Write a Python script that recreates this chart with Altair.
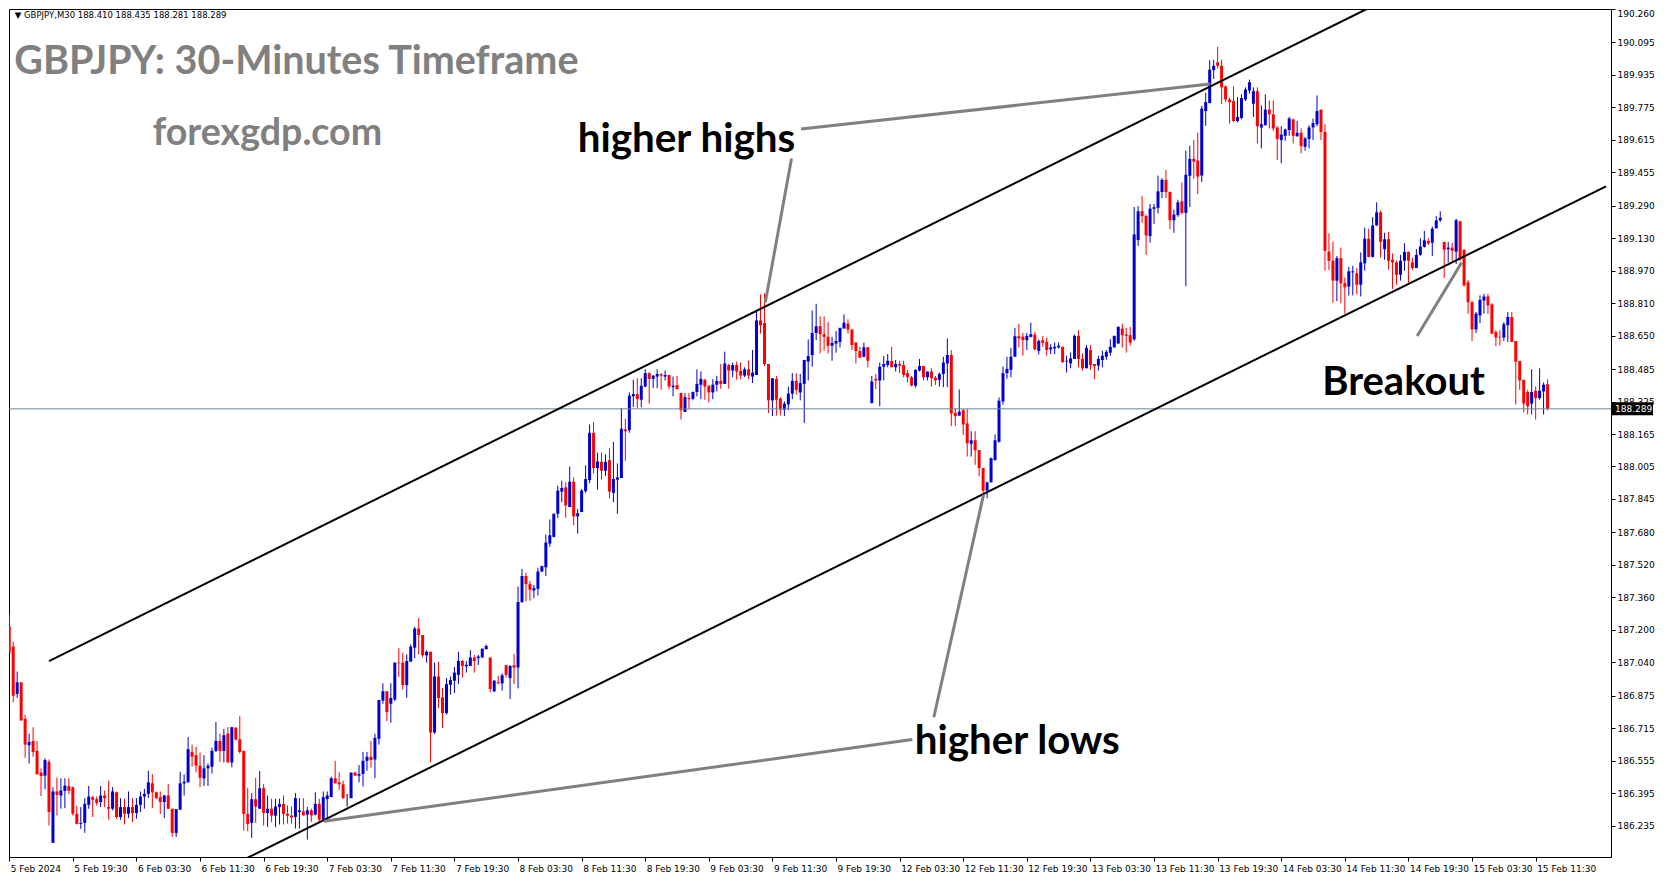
import altair as alt
import pandas as pd
import numpy as np

# ---------------- candle data (GBPJPY M30) ----------------
opens = [
 187.218, 187.117, 186.884, 186.941, 186.761, 186.631, 186.652, 186.603, 186.496, 186.481,
 186.549, 186.150, 186.403, 186.383, 186.406, 186.430, 186.424, 186.293, 186.243, 186.248,
 186.337, 186.375, 186.365, 186.351, 186.383, 186.326, 186.318, 186.399, 186.277, 186.326,
 186.293, 186.326, 186.297, 186.337, 186.378, 186.391, 186.443, 186.399, 186.375, 186.351,
 186.383, 186.318, 186.199, 186.313, 186.443, 186.448, 186.598, 186.582, 186.530, 186.468,
 186.517, 186.525, 186.603, 186.652, 186.603, 186.688, 186.546, 186.717, 186.660, 186.603,
 186.293, 186.248, 186.365, 186.318, 186.419, 186.297, 186.318, 186.284, 186.326, 186.341,
 186.293, 186.284, 186.277, 186.302, 186.305, 186.289, 186.310, 186.289, 186.342, 186.264,
 186.365, 186.375, 186.468, 186.448, 186.438, 186.373, 186.370, 186.496, 186.481, 186.489,
 186.554, 186.574, 186.561, 186.663, 186.851, 186.897, 186.835, 186.856, 187.038, 187.038,
 186.927, 187.043, 187.112, 187.206, 187.174, 187.074, 187.092, 186.693, 186.970, 186.867,
 186.789, 186.929, 186.949, 186.978, 187.046, 187.020, 187.022, 187.063, 187.060, 187.063,
 187.104, 187.063, 186.897, 186.941, 186.936, 187.025, 186.962, 187.025, 187.014, 187.337,
 187.465, 187.425, 187.394, 187.402, 187.487, 187.508, 187.625, 187.658, 187.772, 187.881,
 187.902, 187.805, 187.930, 187.759, 187.780, 187.883, 187.938, 188.171, 187.997, 188.028,
 187.984, 188.036, 187.875, 187.940, 187.948, 188.188, 188.184, 188.351, 188.362, 188.334,
 188.399, 188.465, 188.437, 188.448, 188.460, 188.448, 188.456, 188.396, 188.406, 188.367,
 188.274, 188.342, 188.339, 188.372, 188.408, 188.432, 188.403, 188.370, 188.408, 188.427,
 188.412, 188.505, 188.478, 188.505, 188.476, 188.453, 188.484, 188.448, 188.456, 188.725,
 188.712, 188.510, 188.331, 188.437, 188.339, 188.285, 188.311, 188.364, 188.427, 188.370,
 188.412, 188.522, 188.554, 188.663, 188.696, 188.657, 188.644, 188.600, 188.611, 188.619,
 188.685, 188.709, 188.680, 188.616, 188.574, 188.546, 188.592, 188.318, 188.437, 188.429,
 188.497, 188.505, 188.525, 188.494, 188.510, 188.505, 188.465, 188.445, 188.403, 188.478,
 188.500, 188.445, 188.473, 188.443, 188.432, 188.461, 188.513, 188.554, 188.269, 188.256,
 188.282, 188.217, 188.117, 188.134, 188.086, 187.997, 187.886, 187.927, 188.037, 188.127,
 188.326, 188.465, 188.481, 188.546, 188.647, 188.644, 188.628, 188.644, 188.655, 188.575,
 188.627, 188.619, 188.582, 188.587, 188.592, 188.595, 188.522, 188.513, 188.535, 188.649,
 188.535, 188.489, 188.579, 188.510, 188.502, 188.530, 188.546, 188.566, 188.592, 188.611,
 188.685, 188.655, 188.652, 188.632, 189.121, 189.263, 189.239, 189.141, 189.275, 189.280,
 189.358, 189.418, 189.358, 189.219, 189.244, 189.312, 189.255, 189.438, 189.521, 189.513,
 189.439, 189.757, 189.796, 189.959, 189.997, 189.980, 189.878, 189.814, 189.806, 189.708,
 189.723, 189.814, 189.858, 189.793, 189.855, 189.676, 189.687, 189.764, 189.741, 189.676,
 189.614, 189.635, 189.663, 189.715, 189.633, 189.650, 189.581, 189.619, 189.676, 189.692,
 189.764, 189.654, 189.064, 189.019, 188.921, 189.032, 188.908, 188.892, 188.962, 188.957,
 188.901, 189.006, 189.128, 189.038, 189.193, 189.258, 189.076, 189.125, 189.024, 189.011,
 188.950, 189.019, 189.063, 189.011, 188.983, 189.048, 189.087, 189.117, 189.108, 189.179,
 189.218, 189.112, 189.076, 189.084, 189.064, 189.214, 189.073, 188.913, 188.815, 188.681,
 188.750, 188.823, 188.843, 188.804, 188.668, 188.644, 188.641, 188.701, 188.742, 188.623,
 188.525, 188.432, 188.372, 188.315, 188.378, 188.342, 188.375, 188.410]

highs = [
 187.278, 187.141, 186.994, 186.941, 186.781, 186.688, 186.720, 186.652, 186.517, 186.566,
 186.561, 186.424, 186.471, 186.468, 186.468, 186.468, 186.427, 186.333, 186.326, 186.370,
 186.430, 186.381, 186.378, 186.430, 186.408, 186.456, 186.424, 186.403, 186.370, 186.367,
 186.403, 186.370, 186.370, 186.403, 186.416, 186.505, 186.489, 186.403, 186.403, 186.386,
 186.440, 186.318, 186.316, 186.500, 186.487, 186.672, 186.634, 186.623, 186.595, 186.582,
 186.541, 186.619, 186.745, 186.688, 186.712, 186.720, 186.720, 186.720, 186.774, 186.603,
 186.421, 186.395, 186.470, 186.504, 186.440, 186.383, 186.367, 186.367, 186.367, 186.383,
 186.334, 186.329, 186.395, 186.370, 186.370, 186.326, 186.318, 186.399, 186.367, 186.403,
 186.403, 186.476, 186.554, 186.497, 186.456, 186.391, 186.496, 186.500, 186.533, 186.598,
 186.598, 186.652, 186.688, 186.854, 186.936, 186.897, 186.936, 187.038, 187.109, 187.087,
 187.079, 187.128, 187.214, 187.258, 187.174, 187.099, 187.092, 187.038, 187.043, 186.913,
 186.962, 186.970, 187.017, 187.092, 187.051, 187.046, 187.100, 187.076, 187.076, 187.107,
 187.128, 187.063, 186.952, 186.973, 186.985, 187.025, 187.025, 187.082, 187.413, 187.500,
 187.482, 187.441, 187.421, 187.506, 187.516, 187.669, 187.744, 187.772, 187.910, 187.935,
 187.927, 188.005, 187.951, 187.796, 187.894, 188.011, 188.212, 188.225, 188.073, 188.073,
 188.065, 188.095, 188.126, 188.020, 188.293, 188.240, 188.370, 188.432, 188.440, 188.440,
 188.484, 188.468, 188.456, 188.484, 188.465, 188.478, 188.456, 188.448, 188.452, 188.367,
 188.367, 188.367, 188.375, 188.484, 188.473, 188.437, 188.403, 188.435, 188.452, 188.510,
 188.571, 188.510, 188.517, 188.522, 188.518, 188.494, 188.527, 188.579, 188.771, 188.853,
 188.859, 188.510, 188.440, 188.452, 188.347, 188.326, 188.399, 188.465, 188.465, 188.461,
 188.530, 188.631, 188.774, 188.807, 188.745, 188.745, 188.717, 188.644, 188.673, 188.689,
 188.755, 188.730, 188.680, 188.616, 188.595, 188.616, 188.595, 188.451, 188.461, 188.517,
 188.549, 188.559, 188.595, 188.530, 188.526, 188.526, 188.481, 188.451, 188.484, 188.535,
 188.500, 188.473, 188.489, 188.451, 188.468, 188.546, 188.636, 188.579, 188.293, 188.385,
 188.289, 188.289, 188.179, 188.179, 188.086, 187.997, 187.930, 188.049, 188.163, 188.345,
 188.497, 188.546, 188.590, 188.688, 188.709, 188.663, 188.663, 188.714, 188.668, 188.631,
 188.649, 188.639, 188.608, 188.616, 188.616, 188.595, 188.551, 188.567, 188.655, 188.676,
 188.562, 188.603, 188.603, 188.510, 188.551, 188.575, 188.579, 188.632, 188.649, 188.696,
 188.709, 188.688, 188.693, 189.284, 189.288, 189.337, 189.247, 189.299, 189.299, 189.439,
 189.426, 189.467, 189.361, 189.271, 189.320, 189.405, 189.562, 189.586, 189.614, 189.650,
 189.782, 189.847, 190.008, 190.010, 190.073, 190.010, 189.883, 189.822, 189.879, 189.826,
 189.839, 189.874, 189.912, 189.874, 189.874, 189.785, 189.839, 189.809, 189.809, 189.682,
 189.682, 189.671, 189.728, 189.720, 189.708, 189.671, 189.630, 189.687, 189.720, 189.834,
 189.764, 189.692, 189.154, 189.113, 189.043, 189.084, 188.937, 188.989, 188.994, 188.983,
 189.060, 189.182, 189.177, 189.234, 189.307, 189.267, 189.157, 189.161, 189.055, 189.019,
 189.048, 189.105, 189.064, 189.035, 189.076, 189.130, 189.166, 189.130, 189.187, 189.239,
 189.263, 189.112, 189.112, 189.108, 189.226, 189.214, 189.076, 188.924, 188.820, 188.766,
 188.848, 188.856, 188.856, 188.810, 188.677, 188.677, 188.717, 188.766, 188.766, 188.623,
 188.525, 188.432, 188.383, 188.484, 188.399, 188.489, 188.419, 188.435]

lows = [
 187.087, 186.843, 186.864, 186.753, 186.569, 186.541, 186.574, 186.487, 186.381, 186.414,
 186.235, 186.150, 186.285, 186.318, 186.321, 186.390, 186.284, 186.240, 186.219, 186.199,
 186.318, 186.277, 186.334, 186.326, 186.326, 186.264, 186.310, 186.269, 186.264, 186.240,
 186.272, 186.253, 186.269, 186.302, 186.318, 186.370, 186.321, 186.367, 186.292, 186.272,
 186.318, 186.179, 186.179, 186.313, 186.383, 186.448, 186.525, 186.497, 186.424, 186.430,
 186.430, 186.492, 186.598, 186.549, 186.546, 186.546, 186.522, 186.655, 186.590, 186.210,
 186.207, 186.174, 186.248, 186.318, 186.235, 186.228, 186.251, 186.228, 186.240, 186.240,
 186.245, 186.245, 186.220, 186.220, 186.285, 186.166, 186.253, 186.285, 186.253, 186.264,
 186.264, 186.375, 186.443, 186.411, 186.367, 186.329, 186.370, 186.481, 186.448, 186.427,
 186.505, 186.522, 186.468, 186.634, 186.835, 186.750, 186.742, 186.848, 186.968, 186.905,
 186.864, 187.043, 187.060, 187.079, 187.063, 187.038, 186.546, 186.688, 186.815, 186.717,
 186.782, 186.880, 186.888, 186.932, 186.965, 186.989, 187.022, 186.989, 187.027, 187.063,
 187.104, 186.892, 186.892, 186.932, 186.900, 186.965, 186.859, 186.932, 186.911, 187.332,
 187.340, 187.343, 187.356, 187.369, 187.487, 187.465, 187.609, 187.655, 187.751, 187.829,
 187.752, 187.805, 187.715, 187.674, 187.780, 187.875, 187.923, 187.971, 187.891, 187.940,
 187.959, 187.848, 187.829, 187.772, 187.948, 188.033, 188.171, 188.298, 188.293, 188.298,
 188.396, 188.315, 188.391, 188.391, 188.383, 188.429, 188.386, 188.351, 188.386, 188.236,
 188.274, 188.289, 188.331, 188.351, 188.337, 188.334, 188.321, 188.337, 188.375, 188.388,
 188.412, 188.388, 188.445, 188.432, 188.435, 188.445, 188.435, 188.416, 188.456, 188.660,
 188.500, 188.269, 188.253, 188.256, 188.256, 188.253, 188.282, 188.337, 188.359, 188.331,
 188.220, 188.429, 188.497, 188.628, 188.562, 188.575, 188.562, 188.526, 188.566, 188.592,
 188.685, 188.660, 188.579, 188.513, 188.541, 188.543, 188.494, 188.315, 188.386, 188.302,
 188.429, 188.494, 188.494, 188.473, 188.465, 188.445, 188.419, 188.399, 188.394, 188.473,
 188.429, 188.429, 188.399, 188.407, 188.399, 188.396, 188.396, 188.204, 188.204, 188.256,
 188.160, 188.054, 188.054, 188.013, 187.956, 187.874, 187.848, 187.927, 188.033, 188.122,
 188.310, 188.437, 188.445, 188.546, 188.592, 188.551, 188.579, 188.641, 188.579, 188.557,
 188.595, 188.551, 188.559, 188.559, 188.587, 188.518, 188.468, 188.489, 188.535, 188.494,
 188.478, 188.489, 188.481, 188.435, 188.478, 188.494, 188.530, 188.551, 188.592, 188.611,
 188.592, 188.566, 188.600, 188.624, 189.092, 189.206, 189.048, 189.108, 189.201, 189.252,
 189.328, 189.328, 189.174, 189.157, 189.236, 189.247, 188.893, 189.284, 189.423, 189.348,
 189.407, 189.684, 189.796, 189.915, 189.967, 189.793, 189.801, 189.695, 189.703, 189.700,
 189.716, 189.806, 189.842, 189.728, 189.597, 189.573, 189.687, 189.671, 189.659, 189.516,
 189.500, 189.610, 189.635, 189.597, 189.630, 189.549, 189.562, 189.573, 189.614, 189.682,
 189.614, 188.970, 188.973, 188.812, 188.820, 188.810, 188.758, 188.848, 188.848, 188.853,
 188.843, 188.970, 189.035, 189.035, 189.190, 189.035, 189.024, 188.975, 188.880, 188.901,
 188.921, 188.970, 188.910, 188.973, 188.983, 189.043, 189.084, 189.097, 189.043, 189.179,
 189.211, 188.934, 189.011, 189.019, 189.003, 189.019, 188.892, 188.758, 188.624, 188.663,
 188.712, 188.758, 188.758, 188.657, 188.598, 188.600, 188.624, 188.619, 188.619, 188.310,
 188.383, 188.272, 188.261, 188.261, 188.236, 188.334, 188.261, 188.281]

closes = [
 187.087, 186.875, 186.941, 186.753, 186.634, 186.647, 186.598, 186.487, 186.479, 186.558,
 186.302, 186.403, 186.386, 186.408, 186.432, 186.406, 186.293, 186.243, 186.248, 186.342,
 186.378, 186.362, 186.346, 186.383, 186.370, 186.318, 186.403, 186.277, 186.326, 186.293,
 186.326, 186.297, 186.337, 186.378, 186.391, 186.448, 186.399, 186.370, 186.351, 186.383,
 186.318, 186.199, 186.316, 186.443, 186.451, 186.611, 186.574, 186.530, 186.471, 186.517,
 186.530, 186.603, 186.652, 186.603, 186.680, 186.546, 186.720, 186.659, 186.598, 186.292,
 186.243, 186.365, 186.329, 186.419, 186.297, 186.318, 186.284, 186.329, 186.341, 186.292,
 186.284, 186.275, 186.370, 186.310, 186.285, 186.310, 186.285, 186.342, 186.264, 186.375,
 186.383, 186.468, 186.443, 186.438, 186.370, 186.373, 186.496, 186.481, 186.489, 186.554,
 186.574, 186.558, 186.667, 186.854, 186.897, 186.794, 186.864, 187.038, 187.035, 186.927,
 187.046, 187.117, 187.206, 187.174, 187.074, 187.092, 186.693, 186.970, 186.864, 186.789,
 186.932, 186.952, 186.989, 187.046, 187.022, 187.027, 187.063, 187.046, 187.068, 187.107,
 187.120, 186.908, 186.949, 186.936, 186.976, 186.978, 187.022, 187.014, 187.337, 187.465,
 187.425, 187.397, 187.405, 187.487, 187.514, 187.630, 187.666, 187.772, 187.886, 187.899,
 187.813, 187.930, 187.759, 187.775, 187.886, 187.943, 188.171, 187.997, 188.029, 187.984,
 188.028, 187.881, 187.943, 187.951, 188.191, 188.179, 188.354, 188.362, 188.337, 188.403,
 188.465, 188.437, 188.452, 188.461, 188.453, 188.456, 188.399, 188.403, 188.386, 188.282,
 188.347, 188.337, 188.372, 188.412, 188.437, 188.399, 188.370, 188.408, 188.427, 188.412,
 188.513, 188.478, 188.505, 188.473, 188.453, 188.484, 188.453, 188.468, 188.725, 188.701,
 188.510, 188.331, 188.440, 188.334, 188.285, 188.315, 188.364, 188.427, 188.383, 188.416,
 188.530, 188.549, 188.663, 188.696, 188.657, 188.644, 188.600, 188.614, 188.623, 188.688,
 188.714, 188.680, 188.603, 188.574, 188.541, 188.592, 188.526, 188.424, 188.429, 188.497,
 188.510, 188.526, 188.494, 188.510, 188.502, 188.456, 188.445, 188.404, 188.481, 188.500,
 188.445, 188.473, 188.440, 188.429, 188.461, 188.517, 188.554, 188.266, 188.253, 188.275,
 188.212, 188.119, 188.134, 188.085, 187.997, 187.886, 187.927, 188.046, 188.134, 188.329,
 188.465, 188.486, 188.546, 188.647, 188.636, 188.628, 188.649, 188.657, 188.582, 188.624,
 188.614, 188.579, 188.592, 188.595, 188.600, 188.518, 188.526, 188.538, 188.649, 188.535,
 188.489, 188.590, 188.505, 188.500, 188.535, 188.551, 188.570, 188.595, 188.649, 188.693,
 188.652, 188.649, 188.616, 189.149, 189.263, 189.239, 189.144, 189.276, 189.283, 189.361,
 189.418, 189.358, 189.219, 189.247, 189.307, 189.255, 189.443, 189.521, 189.508, 189.434,
 189.769, 189.801, 189.961, 189.980, 189.980, 189.874, 189.814, 189.801, 189.708, 189.728,
 189.821, 189.863, 189.899, 189.855, 189.682, 189.692, 189.764, 189.741, 189.671, 189.619,
 189.641, 189.666, 189.720, 189.635, 189.650, 189.584, 189.622, 189.676, 189.698, 189.757,
 189.654, 189.068, 189.019, 188.921, 189.032, 188.908, 188.888, 188.967, 188.967, 188.901,
 189.011, 189.128, 189.038, 189.193, 189.258, 189.112, 189.125, 189.019, 189.011, 188.950,
 189.019, 189.063, 189.019, 188.983, 189.048, 189.089, 189.120, 189.104, 189.177, 189.218,
 189.231, 189.073, 189.084, 189.068, 189.219, 189.027, 188.897, 188.815, 188.681, 188.758,
 188.826, 188.843, 188.799, 188.660, 188.641, 188.641, 188.706, 188.742, 188.619, 188.522,
 188.429, 188.315, 188.302, 188.372, 188.342, 188.378, 188.408, 188.289]

time_labels = ["5 Feb 2024", "5 Feb 19:30", "6 Feb 03:30", "6 Feb 11:30", "6 Feb 19:30",
               "7 Feb 03:30", "7 Feb 11:30", "7 Feb 19:30", "8 Feb 03:30", "8 Feb 11:30",
               "8 Feb 19:30", "9 Feb 03:30", "9 Feb 11:30", "9 Feb 19:30", "12 Feb 03:30",
               "12 Feb 11:30", "12 Feb 19:30", "13 Feb 03:30", "13 Feb 11:30", "13 Feb 19:30",
               "14 Feb 03:30", "14 Feb 11:30", "14 Feb 19:30", "15 Feb 03:30", "15 Feb 11:30"]
bars_per_label = 16

price_ticks = [186.070, 186.235, 186.395, 186.555, 186.715, 186.875, 187.040, 187.200,
               187.360, 187.520, 187.680, 187.845, 188.005, 188.165, 188.325, 188.485,
               188.650, 188.810, 188.970, 189.130, 189.290, 189.455, 189.615, 189.775,
               189.935, 190.095, 190.260]

last_price = 188.289
header = "\u25bc GBPJPY,M30  188.410 188.435 188.281 188.289"

# trend channel (bar index, price)
channel_names = ["upper", "upper", "lower", "lower"]
channel_x = [10.0, 341.5, 59.3, 401.7]
channel_y = [187.046, 190.260, 186.070, 189.386]

# grey pointer lines
pointer_names = ["hh1", "hh1", "hh2", "hh2", "hl1", "hl1", "hl2", "hl2", "bo", "bo"]
pointer_x = [199.2, 302.1, 196.8, 190.2, 79.2, 227.2, 232.6, 245.1, 354.2, 365.4]
pointer_y = [189.669, 189.890, 189.523, 188.813, 186.256, 186.659, 186.769, 187.865, 188.648, 189.010]

# annotations
ann_text = ["GBPJPY: 30-Minutes Timeframe", "forexgdp.com", "higher highs", "higher lows", "Breakout"]
ann_x = [1.25, 36.1, 143.0, 227.8, 330.3]
ann_y = [189.999, 189.642, 189.616, 186.645, 188.415]
ann_size = [39.5, 37.6, 40.4, 40.3, 40]
ann_color = ["#808080", "#808080", "#000000", "#000000", "#000000"]

# ---------------- build ----------------
n = min(len(opens), len(highs), len(lows), len(closes))
o = np.array(opens[:n]); c = np.array(closes[:n])
df = pd.DataFrame({
    "idx": np.arange(n),
    "o": o, "h": highs[:n], "l": lows[:n], "c": c,
    "dir": np.where(c > o, "up", np.where(c < o, "down", "flat")),
})

W, H = 1602, 848
y_lo, y_hi = 186.08, 190.26
xs = alt.Scale(domain=[1.2, 401.7], nice=False, zero=False)
ys = alt.Scale(domain=[y_lo, y_hi], nice=False, zero=False)
cs = alt.Scale(domain=["up", "down", "flat"], range=["#0000cd", "#ff0000", "#000000"])

label_arr = "[" + ",".join("'" + t + "'" for t in time_labels) + "]"
x_values = [i * bars_per_label for i in range(len(time_labels))]
x_axis = alt.Axis(values=x_values,
                  labelExpr=label_arr + "[round(datum.value/" + str(bars_per_label) + ")]",
                  labelAlign="left", labelFont="DejaVu Sans", labelFontSize=9,
                  labelColor="black", tickColor="black", domainColor="black",
                  tickSize=4, labelPadding=3, labelOffset=1, grid=False, title=None,
                  labelFlush=False, labelOverlap=False)
shown_ticks = [t for t in price_ticks if y_lo <= t <= y_hi]
y_axis = alt.Axis(orient="right", values=shown_ticks, format=".3f",
                  labelFont="DejaVu Sans", labelFontSize=9, labelColor="black",
                  tickColor="black", domainColor="black", tickSize=4, labelPadding=2,
                  grid=False, title=None, labelOverlap=False, labelFlush=True)


def X(field):
    return alt.X(field, scale=xs, axis=x_axis)


def Y(field):
    return alt.Y(field, scale=ys, axis=y_axis)


base = alt.Chart(df)
wicks = base.mark_rule(strokeWidth=1, clip=True).encode(
    x=X("idx:Q"), y=Y("l:Q"), y2="h:Q",
    color=alt.Color("dir:N", scale=cs, legend=None),
)
bodies = base.mark_bar(width=3, clip=True).encode(
    x=X("idx:Q"), y=Y("o:Q"), y2="c:Q",
    color=alt.Color("dir:N", scale=cs, legend=None),
)

price_df = pd.DataFrame({"p": [last_price], "t": [f"{last_price:.3f}"]})
price_line = alt.Chart(price_df).mark_rule(color="#6f8295", strokeWidth=1).encode(y=Y("p:Q"))

ch_df = pd.DataFrame({"name": channel_names, "x": channel_x, "y": channel_y})
channels = alt.Chart(ch_df).mark_line(color="black", strokeWidth=2, clip=True).encode(
    x=X("x:Q"), y=Y("y:Q"), detail="name:N")

pt_df = pd.DataFrame({"name": pointer_names, "x": pointer_x, "y": pointer_y})
pointers = alt.Chart(pt_df).mark_line(color="#808080", strokeWidth=3, clip=True).encode(
    x=X("x:Q"), y=Y("y:Q"), detail="name:N")

ann_df = pd.DataFrame({"t": ann_text, "x": ann_x, "y": ann_y, "s": ann_size, "col": ann_color})
anns = alt.Chart(ann_df).mark_text(align="left", baseline="middle", font="Lato",
                                   fontWeight="bold").encode(
    x=X("x:Q"), y=Y("y:Q"), text="t:N",
    size=alt.Size("s:Q", scale=None, legend=None),
    color=alt.Color("col:N", scale=None, legend=None))

head_df = pd.DataFrame({"t": [header], "x": [1.4], "y": [190.232]})
head = alt.Chart(head_df).mark_text(align="left", baseline="middle", font="DejaVu Sans",
                                    fontSize=8.5, color="black").encode(
    x=X("x:Q"), y=Y("y:Q"), text="t:N")

tag_bg = alt.Chart(price_df).mark_rule(color="black", strokeWidth=13).encode(
    x=alt.value(W + 1), x2=alt.value(W + 42), y=Y("p:Q"))
tag_txt = alt.Chart(price_df).mark_text(align="left", baseline="middle", font="DejaVu Sans",
                                        fontSize=9, color="white").encode(
    x=alt.value(W + 4), y=Y("p:Q"), text="t:N")

chart = alt.layer(wicks, bodies, price_line, channels, pointers, anns, head, tag_bg, tag_txt
                  ).properties(width=W, height=H, padding=0, background="white"
                  ).configure_view(stroke="black", strokeWidth=1
                  ).configure_axis(labelOverlap=False)

chart.save("out.html", embed_options={"renderer": "svg", "actions": False})
